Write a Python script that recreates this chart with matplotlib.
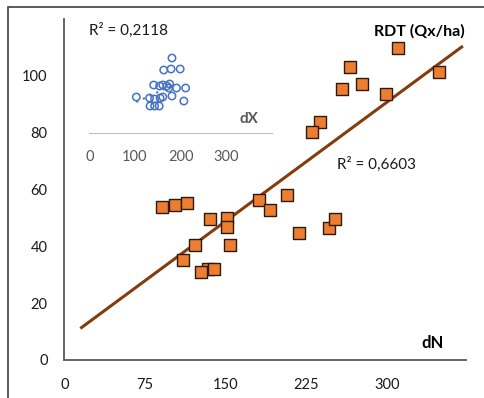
import numpy as np
import matplotlib
matplotlib.use("Agg")
import matplotlib.pyplot as plt
from matplotlib.patches import Rectangle

plt.rcParams['font.family'] = ['Lato', 'DejaVu Sans']

# main series: dN vs RDT
dn = [91, 103, 114, 135, 151, 151, 121, 154, 110, 133, 139, 127, 181,
      191, 207, 218, 310, 265, 276, 258, 299, 348, 237, 230, 246, 251]
rdt = [54.0, 54.4, 55.1, 49.5, 49.8, 46.7, 40.3, 40.3, 35.1, 31.9, 31.9, 30.8, 56.4,
       52.8, 57.9, 44.8, 109.9, 103.0, 97.2, 95.2, 93.6, 101.5, 83.6, 80.3, 46.3, 49.5]

# inset series: dX
dx = [181, 163, 179, 199, 141, 154, 161, 176, 174, 191, 211, 103,
      132, 143, 155, 161, 181, 207, 133, 143, 153, 170]
dx_y = [75, 63, 64, 64, 48, 47, 48, 49, 45, 45, 45, 36,
        35, 34, 35, 36, 37, 32, 27, 27, 27, 47]

grey = "#595959"

fig = plt.figure(figsize=(4.85, 3.98), dpi=100)
fig.add_artist(Rectangle((8 / 485, -0.2), 1.5, 1.2 - 7 / 398, transform=fig.transFigure,
                         fill=False, edgecolor="#404040", linewidth=1.2))

ax = fig.add_axes([0.1326, 0.0955, 0.8282, 0.8568])
ax.scatter(dn, rdt, marker="s", s=76, color="#ED7D31", edgecolors="#2b1a0e",
           linewidths=1.0, zorder=3)
a, b = np.polyfit(dn, rdt, 1)
xt = np.array([min(dn) - 75, max(dn) + 21])
ax.plot(xt, a * xt + b, color="#843C0C", linewidth=2.2, zorder=2)

ax.set_xlim(0, 373)
ax.set_ylim(0, 120)
ax.set_xticks([0, 75, 150, 225, 300])
ax.set_yticks([0, 20, 40, 60, 80, 100])
for s in ["top", "right"]:
    ax.spines[s].set_visible(False)
for s in ["left", "bottom"]:
    ax.spines[s].set_color(grey)
    ax.spines[s].set_linewidth(1.3)
ax.tick_params(length=0, labelsize=10.5, colors="#1a1a1a")
ax.tick_params(axis="x", pad=13)
ax.tick_params(axis="y", pad=12)
ax.text(0.998, 0.985, "RDT (Qx/ha)", transform=ax.transAxes, ha="right", va="top",
        fontsize=11.5, fontweight="bold")
ax.text(0.945, 0.025, "dN", transform=ax.transAxes, ha="right", va="bottom",
        fontsize=12, fontweight="bold")
ax.text(253, 68.9, "R² = 0,6603", fontsize=11, color="#1a1a1a", va="center")

# inset
ins = fig.add_axes([0.1841, 0.6658, 0.3767, 0.3015])
ins.patch.set_alpha(0)
ins.scatter(dx, dx_y, s=28, facecolors="none", edgecolors="#4472C4", linewidths=1.1)
c, d = np.polyfit(dx, dx_y, 1)
xi = np.array([min(dx), max(dx) - 25])
ins.plot(xi, c * xi + d, color="#4472C4", linestyle=(0, (1, 2.5)), linewidth=1.5)
ins.set_xlim(0, 400)
ins.set_ylim(0, 120)
ins.set_xticks([0, 100, 200, 300])
ins.set_yticks([])
for s in ["top", "right", "left"]:
    ins.spines[s].set_visible(False)
ins.spines["bottom"].set_color("#BFBFBF")
ins.tick_params(length=0, labelsize=10.5, colors=grey, pad=12)
ins.text(0.925, 0.06, "dX", transform=ins.transAxes, ha="right", va="bottom",
         fontsize=11, fontweight="bold", color=grey)
ins.text(0, 103, "R² = 0,2118", fontsize=11, color="#1a1a1a", va="center")

fig.savefig("out.png", dpi=100)
